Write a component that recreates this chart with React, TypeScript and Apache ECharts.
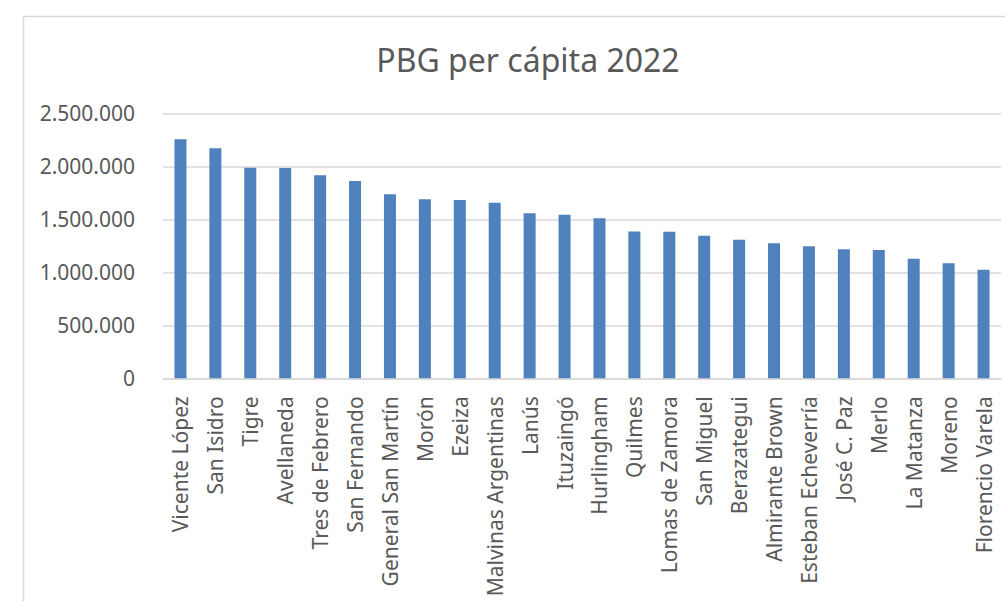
import React, { useEffect, useRef } from "react";
import * as echarts from "echarts";

const title = "PBG per cápita 2022";

const categories: string[] = [
  "Vicente López",
  "San Isidro",
  "Tigre",
  "Avellaneda",
  "Tres de Febrero",
  "San Fernando",
  "General San Martín",
  "Morón",
  "Ezeiza",
  "Malvinas Argentinas",
  "Lanús",
  "Ituzaingó",
  "Hurlingham",
  "Quilmes",
  "Lomas de Zamora",
  "San Miguel",
  "Berazategui",
  "Almirante Brown",
  "Esteban Echeverría",
  "José C. Paz",
  "Merlo",
  "La Matanza",
  "Moreno",
  "Florencio Varela",
];

const values: number[] = [
  2255000, 2170000, 1987000, 1985000, 1915000, 1861000, 1736000, 1689000,
  1682000, 1657000, 1557000, 1543000, 1509000, 1385000, 1383000, 1345000,
  1308000, 1274000, 1245000, 1217000, 1210000, 1128000, 1085000, 1025000,
];

const yMin = 0;
const yMax = 2500000;
const yInterval = 500000;

const fmt = (v: number) =>
  String(Math.round(v)).replace(/\B(?=(\d{3})+(?!\d))/g, ".");

const FONT = "'Noto Sans', 'Open Sans', sans-serif";
const TEXT = "#595959";
const GRID = "#D9D9D9";

export default function App() {
  const ref = useRef<HTMLDivElement>(null);

  useEffect(() => {
    if (!ref.current) return;
    const chart = echarts.init(ref.current, undefined, { renderer: "svg" });
    chart.setOption({
      animation: false,
      backgroundColor: "#ffffff",
      graphic: [
        {
          type: "rect",
          left: 21,
          top: 14,
          shape: { x: 0, y: 0, width: 1010, height: 620 },
          style: { fill: "none", stroke: GRID, lineWidth: 1.5 },
          silent: true,
          z: -1,
        },
      ],
      title: {
        text: title,
        left: 523,
        top: 38,
        textAlign: "center",
        textStyle: {
          fontFamily: FONT,
          fontSize: 32,
          fontWeight: "normal",
          color: TEXT,
        },
      },
      grid: {
        left: 163,
        right: 4,
        top: 113.3,
        bottom: 601 - 378.3,
        containLabel: false,
      },
      xAxis: {
        type: "category",
        data: categories,
        axisLine: { show: true, lineStyle: { color: GRID, width: 1.5 } },
        axisTick: { show: false },
        axisLabel: {
          interval: 0,
          rotate: 90,
          margin: 18,
          fontFamily: FONT,
          fontSize: 21,
          color: TEXT,
        },
      },
      yAxis: {
        type: "value",
        min: yMin,
        max: yMax,
        interval: yInterval,
        axisLine: { show: false },
        axisTick: { show: false },
        splitLine: { show: true, lineStyle: { color: GRID, width: 1.5 } },
        axisLabel: {
          margin: 28,
          fontFamily: FONT,
          fontSize: 21,
          color: TEXT,
          formatter: (v: number) => fmt(v),
        },
      },
      series: [
        {
          type: "bar",
          data: values,
          barWidth: 12,
          itemStyle: { color: "#4F81BD" },
        },
      ],
    });
    return () => chart.dispose();
  }, []);

  return (
    <div
      ref={ref}
      style={{ position: "absolute", left: 0, top: 0, width: 1005, height: 601 }}
    />
  );
}
